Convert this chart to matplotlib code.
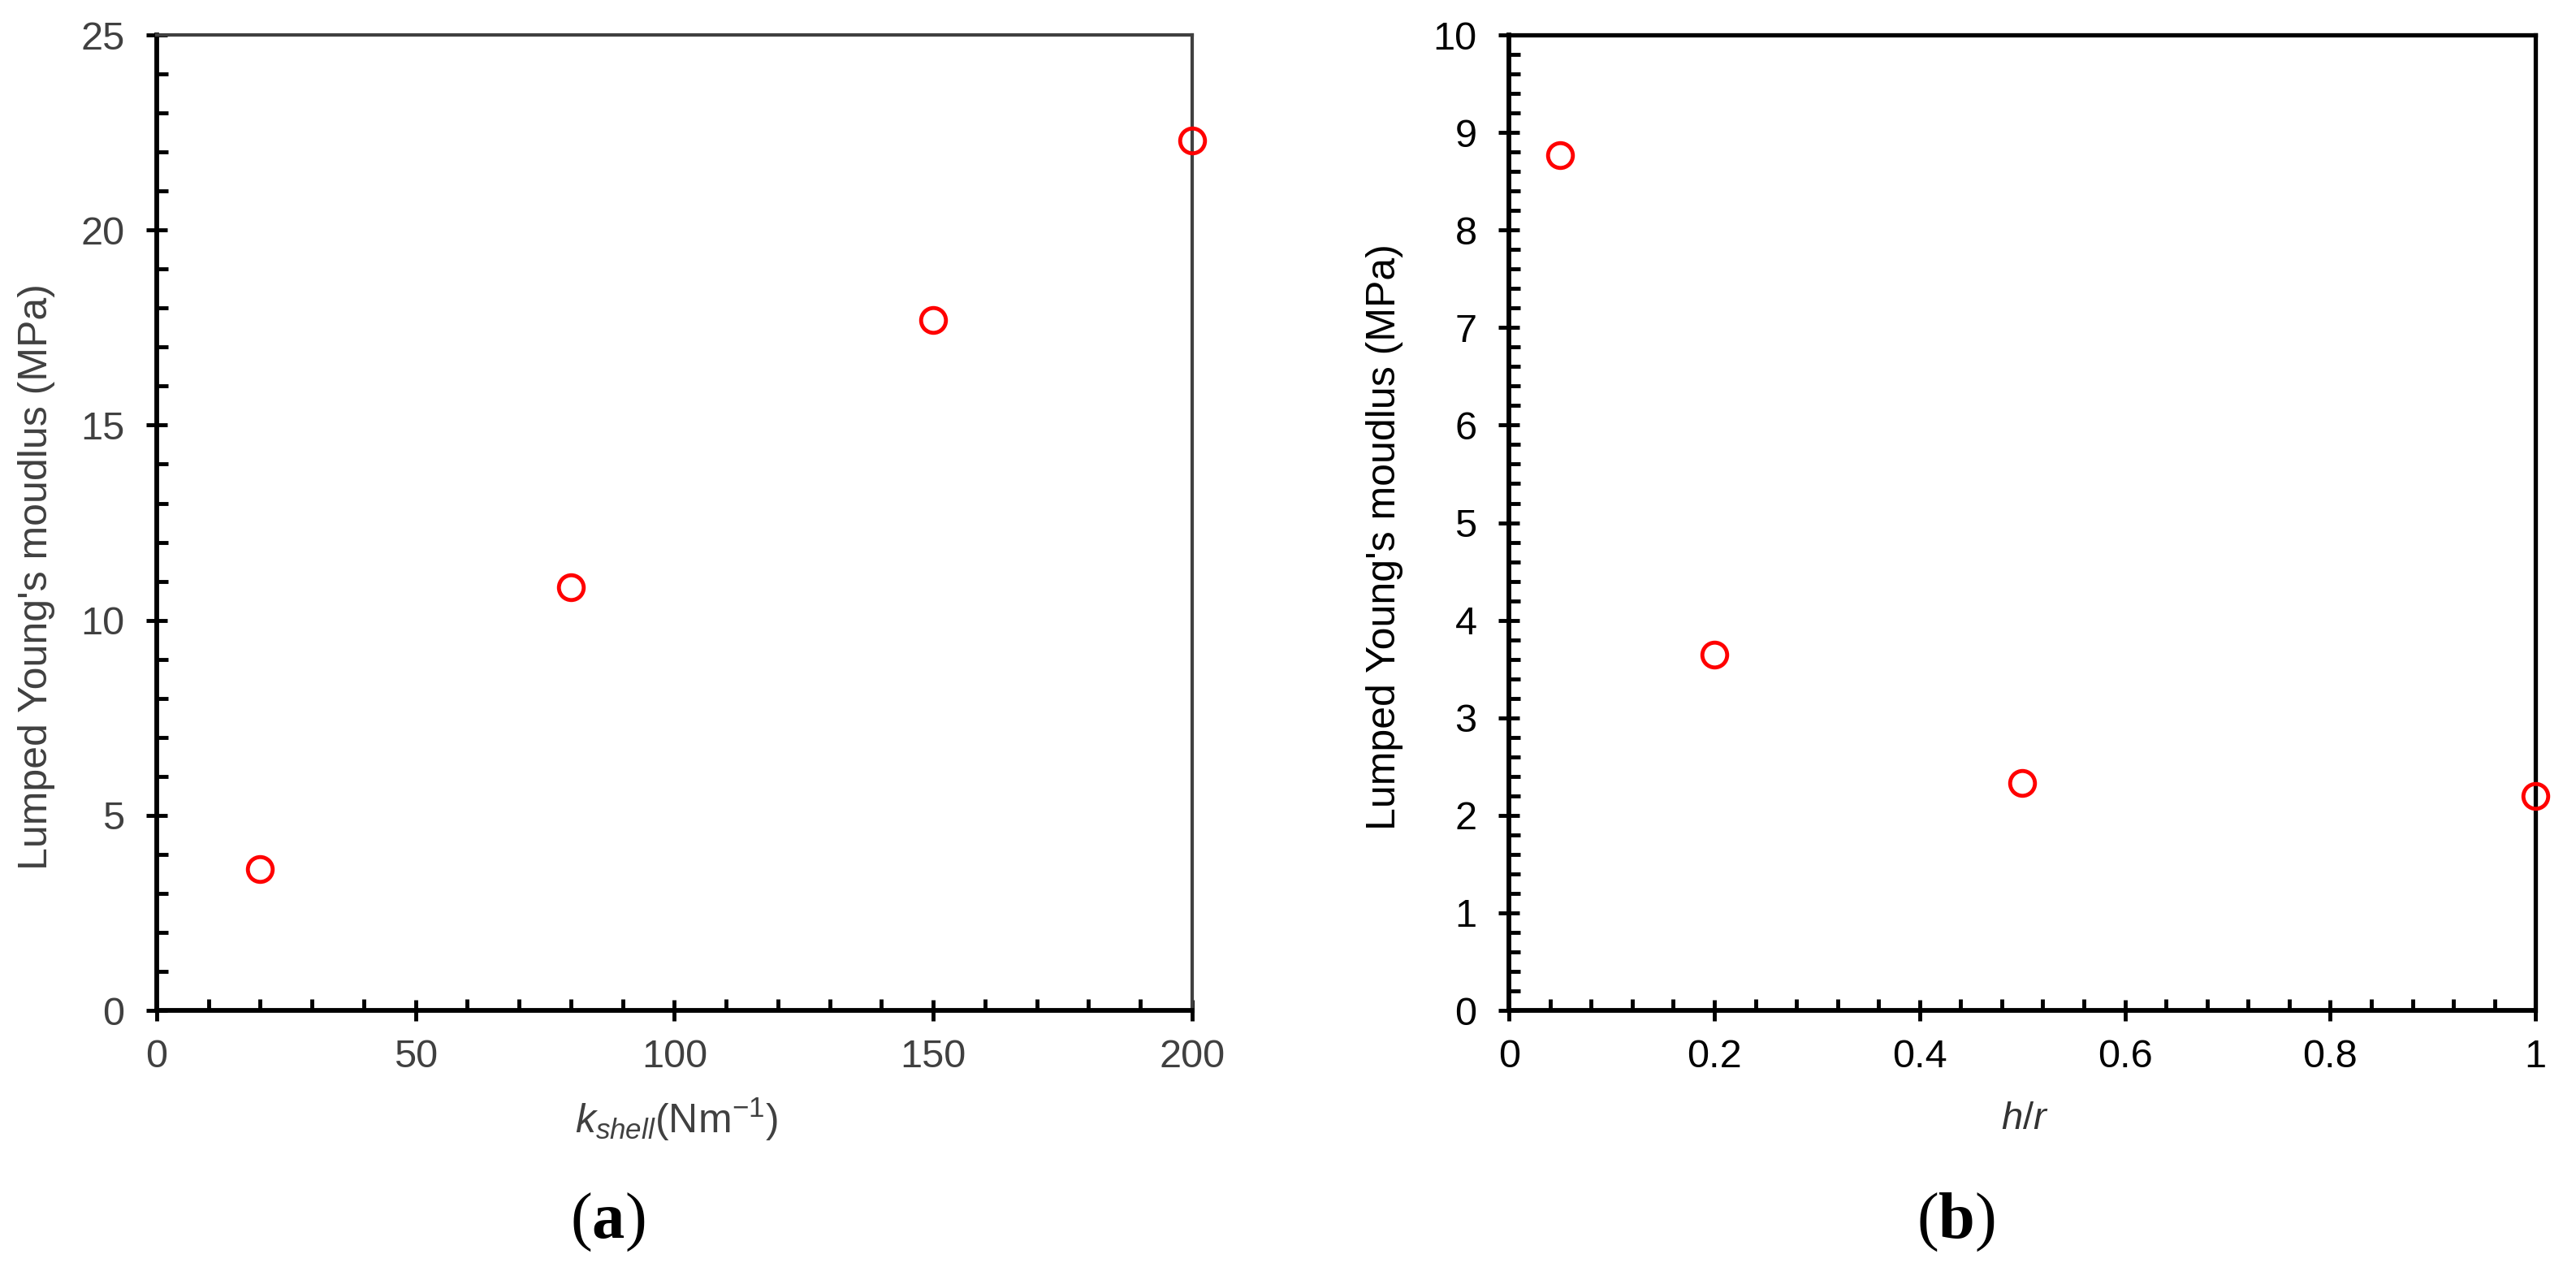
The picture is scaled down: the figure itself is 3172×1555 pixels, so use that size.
import numpy as np
import matplotlib.pyplot as plt
from matplotlib.ticker import MultipleLocator, FuncFormatter

plt.rcParams['font.family'] = ['Liberation Sans', 'DejaVu Sans']
plt.rcParams['mathtext.fontset'] = 'custom'
plt.rcParams['mathtext.rm'] = 'Liberation Sans'
plt.rcParams['mathtext.it'] = 'Liberation Sans:italic'
plt.rcParams['mathtext.bf'] = 'Liberation Serif:bold'

# data
k_shell = [20, 80, 150, 200]
modulus_a = [3.63, 10.85, 17.7, 22.3]

h_over_r = [0.05, 0.2, 0.5, 1.0]
modulus_b = [8.77, 3.65, 2.33, 2.2]

ylabel = "Lumped Young's moudlus (MPa)"

fig = plt.figure(figsize=(31.72, 15.55), dpi=100)
ax_a = fig.add_axes([0.0608, 0.2, 0.4020, 0.7723])
ax_b = fig.add_axes([0.5858, 0.2, 0.3985, 0.7723])


def style_axes(ax, text_color, frame_color, frame_lw):
    ax.tick_params(which='major', direction='inout', length=19, width=3.5,
                   labelsize=35, labelcolor=text_color, color='black')
    ax.tick_params(which='minor', direction='in', length=10, width=3.5, color='black')
    ax.tick_params(axis='y', which='major', pad=19)
    ax.tick_params(axis='x', which='major', pad=16)
    ax.tick_params(top=False, right=False, which='both')
    for side in ['left', 'bottom']:
        ax.spines[side].set_linewidth(4.2)
        ax.spines[side].set_color('black')
    for side in ['top', 'right']:
        ax.spines[side].set_linewidth(frame_lw)
        ax.spines[side].set_color(frame_color)


# (a)
ax_a.plot(k_shell, modulus_a, linestyle='none', marker='o', markersize=22,
          markerfacecolor='none', markeredgecolor='red', markeredgewidth=3.5, clip_on=False, zorder=5)
ax_a.set_xlim(0, 200)
ax_a.set_ylim(0, 25)
ax_a.xaxis.set_major_locator(MultipleLocator(50))
ax_a.xaxis.set_minor_locator(MultipleLocator(10))
ax_a.yaxis.set_major_locator(MultipleLocator(5))
ax_a.yaxis.set_minor_locator(MultipleLocator(1))
style_axes(ax_a, '#404040', '#404040', 3.0)

# (b)
ax_b.plot(h_over_r, modulus_b, linestyle='none', marker='o', markersize=22,
          markerfacecolor='none', markeredgecolor='red', markeredgewidth=3.5, clip_on=False, zorder=5)
ax_b.set_xlim(0, 1)
ax_b.set_ylim(0, 10)
ax_b.xaxis.set_major_locator(MultipleLocator(0.2))
ax_b.xaxis.set_minor_locator(MultipleLocator(0.04))
ax_b.yaxis.set_major_locator(MultipleLocator(1))
ax_b.yaxis.set_minor_locator(MultipleLocator(0.2))
ax_b.xaxis.set_major_formatter(FuncFormatter(lambda v, p: '%g' % round(v, 2)))
style_axes(ax_b, 'black', 'black', 3.8)

# axis labels
fig.text(0.0142, 0.5434, ylabel, rotation=90, ha='center', va='center', fontsize=36, color='#404040')
fig.text(0.5375, 0.575, ylabel, rotation=90, ha='center', va='center', fontsize=36, color='black')
fig.text(0.2626, 0.1029, r'$k_{shell}$(Nm$^{-1}$)', ha='center', va='baseline', fontsize=36, color='#404040')
fig.text(0.786, 0.106, r'$h/r$', ha='center', va='baseline', fontsize=34, color='#333333')

# panel letters
fig.text(0.2358, 0.032, r'($\mathbf{a}$)', ha='center', va='center', fontsize=58, family='Liberation Serif')
fig.text(0.7592, 0.032, r'($\mathbf{b}$)', ha='center', va='center', fontsize=58, family='Liberation Serif')

fig.savefig('out.png', dpi=100)
